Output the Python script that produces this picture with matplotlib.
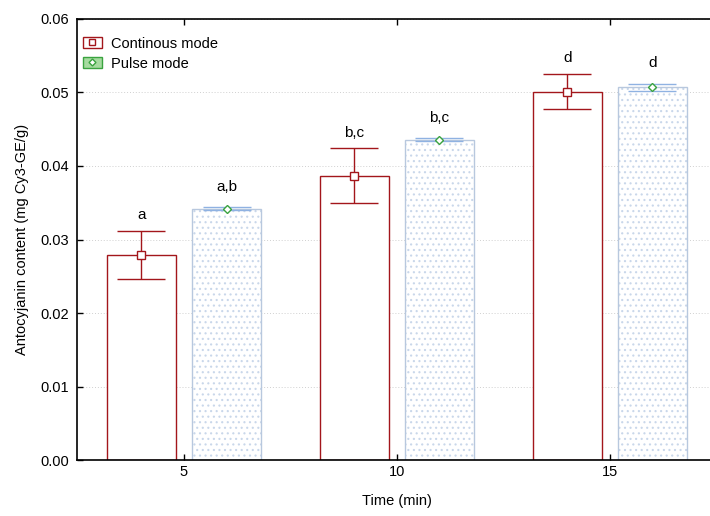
import numpy as np
import matplotlib
matplotlib.use("Agg")
import matplotlib.pyplot as plt
from matplotlib.patches import Patch
from matplotlib.lines import Line2D

plt.rcParams['font.family'] = ['Liberation Sans', 'DejaVu Sans']
plt.rcParams['hatch.linewidth'] = 0.8

times = ["5", "10", "15"]
cont_mean = [0.0279, 0.0387, 0.0501]
cont_err = [0.0033, 0.0037, 0.0024]
pulse_mean = [0.0342, 0.0436, 0.0507]
pulse_err = [0.0002, 0.0002, 0.0005]
cont_letters = ["a", "b,c", "d"]
pulse_letters = ["a,b", "b,c", "d"]

RED = "#a3161b"
BLUE_EDGE = "#b8c8de"
BLUE_DOTS = "#c9d7ea"
BLUE_ERR = "#8fb2e2"
GREEN = "#3aa33f"

fig = plt.figure(figsize=(7.1, 5.16), dpi=100)
ax = fig.add_axes([0.1085, 0.1085, 0.901, 0.8547])

x = np.arange(len(times))
w = 0.324
off = 0.2

ax.bar(x - off, cont_mean, w, facecolor="white", edgecolor=RED, linewidth=1.0, zorder=2)
# dotted fill (hatch colour follows edgecolor), then the outline on top
ax.bar(x + off, pulse_mean, w, facecolor="white", edgecolor=BLUE_DOTS, linewidth=0,
       hatch="...", zorder=2)
ax.bar(x + off, pulse_mean, w, facecolor="none", edgecolor=BLUE_EDGE, linewidth=1.0, zorder=2)

ax.errorbar(x - off, cont_mean, yerr=cont_err, fmt="s", ms=6, mfc="white", mec=RED,
            mew=1.0, ecolor=RED, elinewidth=1.0, capsize=17.6, capthick=1.0, zorder=3)
ax.errorbar(x + off, pulse_mean, yerr=pulse_err, fmt="D", ms=4, mfc="white", mec=GREEN,
            mew=1.0, ecolor=BLUE_ERR, elinewidth=1.5, capsize=17.6, capthick=2.0, zorder=3)

for xi, m, e, t in zip(x - off, cont_mean, cont_err, cont_letters):
    ax.text(xi, m + e + 0.0012, t, ha="center", va="bottom", fontsize=11)
for xi, m, e, t in zip(x + off, pulse_mean, pulse_err, pulse_letters):
    ax.text(xi, m + e + 0.0018, t, ha="center", va="bottom", fontsize=11)

ax.set_xlim(-0.502, 2.502)
ax.set_ylim(0, 0.06)
ax.set_xticks(x)
ax.set_xticklabels(times)
ax.set_yticks(np.arange(0, 0.061, 0.01))
ax.set_yticklabels([f"{v:.2f}" for v in np.arange(0, 0.061, 0.01)])
ax.tick_params(direction="in", length=4, labelsize=10.5, top=True, width=1)
ax.tick_params(axis="y", pad=6)
ax.yaxis.grid(True, linestyle=(0, (1, 2)), color="#d0d0d0", linewidth=0.7, zorder=0)
ax.set_axisbelow(True)
for s in ax.spines.values():
    s.set_linewidth(1.2)

ax.set_xlabel("Time (min)", fontsize=10.5, labelpad=11)
ax.set_ylabel("Antocyjanin content (mg Cy3-GE/g)", fontsize=10.5, labelpad=8)

h1 = (Patch(facecolor="white", edgecolor=RED, linewidth=1.0),
      Line2D([], [], marker="s", ms=5, mfc="white", mec=RED, ls="none"))
h2 = (Patch(facecolor="#a6dba0", edgecolor=GREEN, linewidth=1.0),
      Line2D([], [], marker="D", ms=3.5, mfc="white", mec=GREEN, ls="none"))
ax.legend([h1, h2], ["Continous mode", "Pulse mode"], loc="upper left", frameon=False,
          fontsize=10.5, handlelength=1.3, handleheight=0.8, handletextpad=0.6,
          borderaxespad=0.0, labelspacing=0.4, bbox_to_anchor=(0.0, 0.973))

fig.savefig("out.png", dpi=100)
